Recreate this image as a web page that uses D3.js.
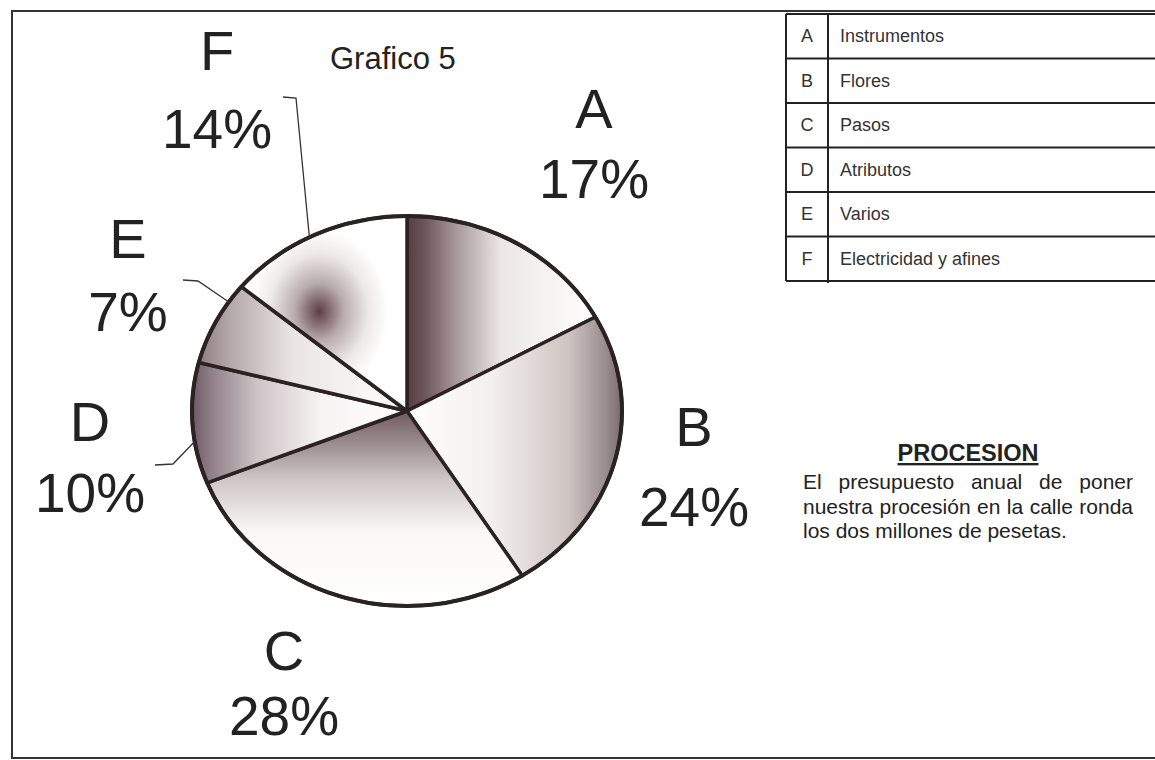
<!DOCTYPE html>
<html>
<head>
<meta charset="utf-8">
<script src="https://cdn.jsdelivr.net/npm/d3@7"></script>
<style>
  body { margin: 0; background: #fff; }
  svg { display: block; font-family: "Liberation Sans", Arial, sans-serif; }
</style>
</head>
<body>
<svg id="chart" width="1155" height="760"></svg>
<script>
(function (d3) {
  'use strict';

  // data
  const letters = ['A', 'B', 'C', 'D', 'E', 'F'];
  const names = ['Instrumentos', 'Flores', 'Pasos', 'Atributos', 'Varios', 'Electricidad y afines'];
  const percents = [17, 24, 28, 10, 7, 14];

  const title = 'Grafico 5';
  const noteTitle = 'PROCESION';
  const noteLines = [
    'El presupuesto anual de poner',
    'nuestra procesión en la calle ronda',
    'los dos millones de pesetas.'
  ];

  // layout
  const CX = 407, CY = 411, RX = 215, RY = 195;
  const INK = '#2b2322';

  // where the big labels sit (letter baseline, percent baseline)
  const labelPos = [
    { x: 594, y: 128, y2: 198 },
    { x: 694, y: 446, y2: 526 },
    { x: 284, y: 670, y2: 735 },
    { x: 90, y: 441, y2: 512 },
    { x: 128, y: 258, y2: 331 },
    { x: 217, y: 70, y2: 148 }
  ];
  // leader lines for the small slices (elbow then angle on the rim)
  const leaders = [
    { pts: [[283, 97], [296, 98]], angle: 333 },
    { pts: [[183, 280], [198, 281]], angle: 304 },
    { pts: [[155, 465], [173, 464]], angle: 261 }
  ];

  const svg = d3.select('#chart');
  const defs = svg.append('defs');

  // shading for each slice, like the scanned gradient fills
  const lin = (id, x1, y1, x2, y2, stops) => {
    const g = defs.append('linearGradient').attr('id', id)
      .attr('x1', x1).attr('y1', y1).attr('x2', x2).attr('y2', y2);
    stops.forEach(([o, c]) => g.append('stop').attr('offset', o).attr('stop-color', c));
  };
  lin('gA', 0, 0, 1, 0, [[0, '#553c42'], [0.1, '#6f585c'], [0.25, '#a59598'], [0.5, '#ece7e5'], [1, '#ffffff']]);
  lin('gB', 0, 0, 1, 0, [[0, '#ffffff'], [0.4, '#f3efed'], [0.75, '#cfc5c2'], [0.93, '#978a8b'], [1, '#7a6b6d']]);
  lin('gC', 0, 0, 0, 1, [[0, '#6f5b60'], [0.12, '#8f7e82'], [0.35, '#cfc6c5'], [0.62, '#faf8f7'], [1, '#ffffff']]);
  lin('gD', 0, 0, 1, 0, [[0, '#6c5862'], [0.08, '#8d7c84'], [0.3, '#cdc3c6'], [0.6, '#f6f3f3'], [1, '#ffffff']]);
  lin('gE', 0, 0, 1, 0, [[0, '#8e7e82'], [0.15, '#b4a8aa'], [0.45, '#eae5e4'], [1, '#ffffff']]);
  const rg = defs.append('radialGradient').attr('id', 'gF')
    .attr('cx', 0.47).attr('cy', 0.49).attr('r', 0.42);
  [[0, '#5c4048'], [0.12, '#7d6268'], [0.35, '#b8abad'], [0.7, '#ece8e7'], [1, '#ffffff']]
    .forEach(([o, c]) => rg.append('stop').attr('offset', o).attr('stop-color', c));
  const fills = ['url(#gA)', 'url(#gB)', 'url(#gC)', 'url(#gD)', 'url(#gE)', 'url(#gF)'];

  // outer frame
  svg.append('rect')
    .attr('x', 12).attr('y', 11).attr('width', 1170).attr('height', 747)
    .attr('fill', 'none').attr('stroke', '#333').attr('stroke-width', 2);

  // pie
  const pie = d3.pie().sort(null).value((d) => d)(percents);
  const arc = d3.arc().innerRadius(0).outerRadius(RX);

  const g = svg.append('g')
    .attr('transform', `translate(${CX},${CY}) scale(1,${RY / RX})`);

  g.selectAll('path.slice')
    .data(pie)
    .enter()
    .append('path')
    .attr('class', 'slice')
    .attr('d', arc)
    .attr('fill', (d, i) => fills[i])
    .attr('stroke', INK)
    .attr('stroke-width', 3.5)
    .attr('stroke-linejoin', 'round')
    .attr('vector-effect', 'non-scaling-stroke');

  // rim drawn again on top, a bit heavier
  g.append('ellipse')
    .attr('rx', RX).attr('ry', RX)
    .attr('fill', 'none')
    .attr('stroke', INK)
    .attr('stroke-width', 4)
    .attr('vector-effect', 'non-scaling-stroke');

  // labels
  const labels = svg.selectAll('g.label')
    .data(pie)
    .enter()
    .append('g')
    .attr('class', 'label')
    .attr('text-anchor', 'middle')
    .attr('fill', '#222');

  labels.append('text')
    .attr('x', (d, i) => labelPos[i].x)
    .attr('y', (d, i) => labelPos[i].y)
    .attr('font-size', 56)
    .text((d, i) => letters[i]);

  labels.append('text')
    .attr('x', (d, i) => labelPos[i].x)
    .attr('y', (d, i) => labelPos[i].y2)
    .attr('font-size', 55)
    .text((d) => d.data + '%');

  // leader lines
  const rim = (deg) => {
    const a = deg * Math.PI / 180;
    return [CX + Math.sin(a) * RX, CY - Math.cos(a) * RY];
  };
  svg.selectAll('path.leader')
    .data(leaders)
    .enter()
    .append('path')
    .attr('class', 'leader')
    .attr('d', (d) => d3.line()(d.pts.concat([rim(d.angle)])))
    .attr('fill', 'none')
    .attr('stroke', '#333')
    .attr('stroke-width', 1.3);

  // title
  svg.append('text')
    .attr('x', 330).attr('y', 69)
    .attr('font-size', 31)
    .attr('fill', '#222')
    .text(title);

  // legend table
  const TX = 786, TY = 14, COL = 828, ROW_H = 44.5, TW = 400;
  const table = svg.append('g').attr('stroke', '#222').attr('stroke-width', 2);
  const yRow = d3.scaleLinear().domain([0, letters.length]).range([TY, TY + ROW_H * letters.length]);

  table.selectAll('line.row')
    .data(d3.range(letters.length + 1))
    .enter()
    .append('line')
    .attr('x1', TX).attr('x2', TX + TW)
    .attr('y1', (d) => yRow(d)).attr('y2', (d) => yRow(d));
  table.append('line').attr('x1', TX).attr('x2', TX).attr('y1', yRow(0)).attr('y2', yRow(letters.length));
  table.append('line').attr('x1', COL).attr('x2', COL).attr('y1', yRow(0)).attr('y2', yRow(letters.length) + 2);

  const rows = svg.selectAll('g.row')
    .data(letters)
    .enter()
    .append('g')
    .attr('class', 'row')
    .attr('font-size', 18)
    .attr('fill', '#333');
  rows.append('text')
    .attr('x', (TX + COL) / 2)
    .attr('y', (d, i) => yRow(i) + ROW_H / 2 + 6)
    .attr('text-anchor', 'middle')
    .text((d) => d);
  rows.append('text')
    .attr('x', COL + 12)
    .attr('y', (d, i) => yRow(i) + ROW_H / 2 + 6)
    .text((d, i) => names[i]);

  // note block
  const NX = 803, NW = 330;
  svg.append('text')
    .attr('x', NX + NW / 2).attr('y', 461)
    .attr('text-anchor', 'middle')
    .attr('font-size', 23.5)
    .attr('font-weight', 'bold')
    .attr('fill', '#222')
    .attr('text-decoration', 'underline')
    .text(noteTitle);

  const note = svg.selectAll('text.note')
    .data(noteLines)
    .enter()
    .append('text')
    .attr('class', 'note')
    .attr('x', NX)
    .attr('y', (d, i) => 489 + i * 24.5)
    .attr('font-size', 21)
    .attr('fill', '#222')
    .text((d) => d);

  // justify all but the last line by widening the gaps between words
  note.each(function (d, i) {
    if (i === noteLines.length - 1) return;
    const len = this.getComputedTextLength();
    const gaps = d.split(' ').length - 1;
    if (len < NW && gaps > 0) {
      d3.select(this).style('word-spacing', ((NW - len) / gaps) + 'px');
    }
  });

}(d3));
</script>
</body>
</html>
